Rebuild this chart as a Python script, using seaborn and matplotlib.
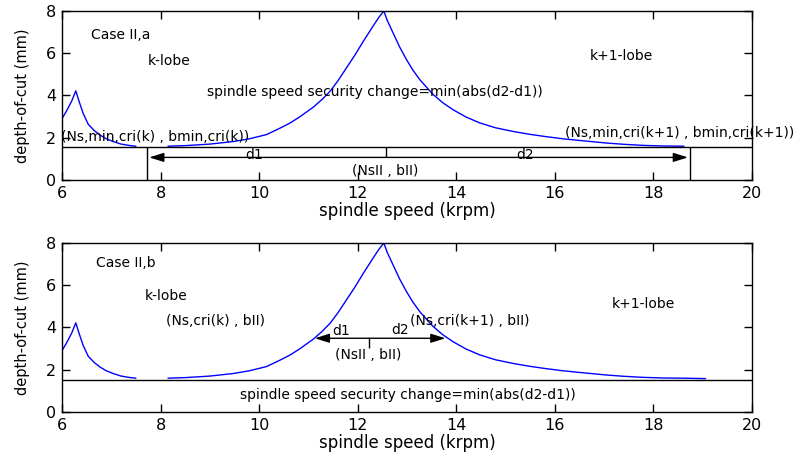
import numpy as np
import pandas as pd
import matplotlib
matplotlib.use("Agg")
import matplotlib.pyplot as plt
import seaborn as sns

# stability lobe curve (spindle speed in krpm, depth-of-cut in mm)
k_speed = [6.0, 6.1, 6.2, 6.28, 6.35, 6.43, 6.53, 6.65, 6.77, 6.9, 7.04, 7.2, 7.38, 7.5]
k_depth = [2.9, 3.3, 3.75, 4.22, 3.7, 3.15, 2.65, 2.35, 2.13, 1.95, 1.82, 1.7, 1.63, 1.6]
k1_speed = [8.15, 8.52, 9.0, 9.47, 9.8, 10.15, 10.42, 10.63, 10.83, 11.1, 11.27,
            11.44, 11.6, 11.77, 11.94, 12.11, 12.22, 12.33, 12.43, 12.53, 12.6,
            12.72, 12.85, 12.99, 13.12, 13.26, 13.4, 13.53, 13.73, 13.94, 14.2,
            14.48, 14.8, 15.15, 15.5, 15.83, 16.17, 16.51, 17.05, 17.4, 17.79,
            18.2, 18.62, 19.06]
k1_depth = [1.6, 1.63, 1.7, 1.82, 1.95, 2.15, 2.45, 2.7, 3.0, 3.45, 3.8,
            4.2, 4.7, 5.3, 5.9, 6.55, 6.95, 7.35, 7.7, 8.0, 7.55,
            6.95, 6.3, 5.7, 5.2, 4.75, 4.38, 4.05, 3.65, 3.32, 2.98,
            2.7, 2.47, 2.3, 2.16, 2.05, 1.95, 1.87, 1.75, 1.69, 1.64,
            1.61, 1.6, 1.58]
top_end = 18.62   # curve in case a stops here
bottom_end = 19.06

# case a: minimum line and speed bounds
b_min_a = 1.57
bounds_a = [7.72, 12.57, 18.75]   # Ns,min,cri(k), NsII, Ns,min,cri(k+1)
arrow_y_a = 1.07
# case b
b_min_b = 1.53
bounds_b = [11.13, 12.23, 13.78]  # Ns,cri(k), NsII, Ns,cri(k+1)
arrow_y_b = 3.49
tick_low_b = 3.02

xticks = [6, 8, 10, 12, 14, 16, 18, 20]
yticks = [0, 2, 4, 6, 8]


def lobe_frame(end):
    parts = [pd.DataFrame({"speed": k_speed, "depth": k_depth, "lobe": "k"}),
             pd.DataFrame({"speed": k1_speed, "depth": k1_depth, "lobe": "k+1"})]
    df = pd.concat(parts, ignore_index=True)
    return df[df["speed"] <= end]


def draw_arrow(ax, start, tip, y):
    ax.annotate("", xy=(tip, y), xytext=(start, y),
                arrowprops=dict(arrowstyle="-|>,head_length=0.8,head_width=0.25",
                                color="black", lw=1, mutation_scale=11,
                                shrinkA=0, shrinkB=0))


def setup_axes(ax):
    ax.set_xlim(6, 20)
    ax.set_ylim(0, 8)
    ax.set_xticks(xticks)
    ax.set_yticks(yticks)
    ax.tick_params(direction="in", top=True, right=True, length=6, width=1,
                   labelsize=11.5, colors="black", pad=4)
    for s in ax.spines.values():
        s.set_visible(True)
        s.set_color("black")
        s.set_linewidth(1)
    ax.set_xlabel("spindle speed (krpm)", fontsize=12, labelpad=1)
    ax.set_ylabel("depth-of-cut (mm)", fontsize=10.5, labelpad=12)


sns.set_style("ticks")
plt.rcParams["font.family"] = ["DejaVu Sans"]
plt.rcParams["text.color"] = "black"
plt.rcParams["axes.labelcolor"] = "black"

fig = plt.figure(figsize=(8.04, 4.61), dpi=100)
ax1 = fig.add_axes([0.0771, 0.6095, 0.8582, 0.3667])
ax2 = fig.add_axes([0.0771, 0.1063, 0.8582, 0.3666])

fs = 10

# ---- case II,a
sns.lineplot(data=lobe_frame(top_end), x="speed", y="depth", units="lobe",
             estimator=None, sort=False, color="blue", lw=1, ax=ax1)
ax1.axhline(b_min_a, color="black", lw=1, zorder=3)
ax1.vlines([bounds_a[0], bounds_a[2]], 0, b_min_a, color="black", lw=1)
ax1.vlines(bounds_a[1], arrow_y_a, b_min_a, color="black", lw=1)
draw_arrow(ax1, bounds_a[1], bounds_a[0] + 0.05, arrow_y_a)
draw_arrow(ax1, bounds_a[1], bounds_a[2] - 0.05, arrow_y_a)
ax1.text(6.58, 6.87, "Case II,a", fontsize=fs, va="center")
ax1.text(7.75, 5.64, "k-lobe", fontsize=fs, va="center")
ax1.text(8.95, 4.18, "spindle speed security change=min(abs(d2-d1))", fontsize=fs, va="center")
ax1.text(5.98, 2.05, "(Ns,min,cri(k) , bmin,cri(k))", fontsize=fs, va="center")
ax1.text(16.71, 5.88, "k+1-lobe", fontsize=fs, va="center")
ax1.text(16.2, 2.21, "(Ns,min,cri(k+1) , bmin,cri(k+1))", fontsize=fs, va="center")
ax1.text(9.9, 1.2, "d1", fontsize=fs, ha="center", va="center")
ax1.text(15.39, 1.2, "d2", fontsize=fs, ha="center", va="center")
ax1.text(12.55, 0.44, "(NsII , bII)", fontsize=fs, ha="center", va="center")
setup_axes(ax1)

# ---- case II,b
sns.lineplot(data=lobe_frame(bottom_end), x="speed", y="depth", units="lobe",
             estimator=None, sort=False, color="blue", lw=1, ax=ax2)
ax2.axhline(b_min_b, color="black", lw=1, zorder=3)
ax2.vlines(bounds_b[1], tick_low_b, arrow_y_b, color="black", lw=1)
draw_arrow(ax2, bounds_b[1], bounds_b[0], arrow_y_b)
draw_arrow(ax2, bounds_b[1], bounds_b[2], arrow_y_b)
ax2.text(6.70, 7.05, "Case II,b", fontsize=fs, va="center")
ax2.text(7.68, 5.5, "k-lobe", fontsize=fs, va="center")
ax2.text(8.12, 4.33, "(Ns,cri(k) , bII)", fontsize=fs, va="center")
ax2.text(9.62, 0.81, "spindle speed security change=min(abs(d2-d1))", fontsize=fs, va="center")
ax2.text(11.67, 3.82, "d1", fontsize=fs, ha="center", va="center")
ax2.text(12.86, 3.9, "d2", fontsize=fs, ha="center", va="center")
ax2.text(13.06, 4.3, "(Ns,cri(k+1) , bII)", fontsize=fs, va="center")
ax2.text(12.21, 2.7, "(NsII , bII)", fontsize=fs, ha="center", va="center")
ax2.text(17.79, 5.12, "k+1-lobe", fontsize=fs, ha="center", va="center")
setup_axes(ax2)

fig.savefig("out.png", dpi=100)
